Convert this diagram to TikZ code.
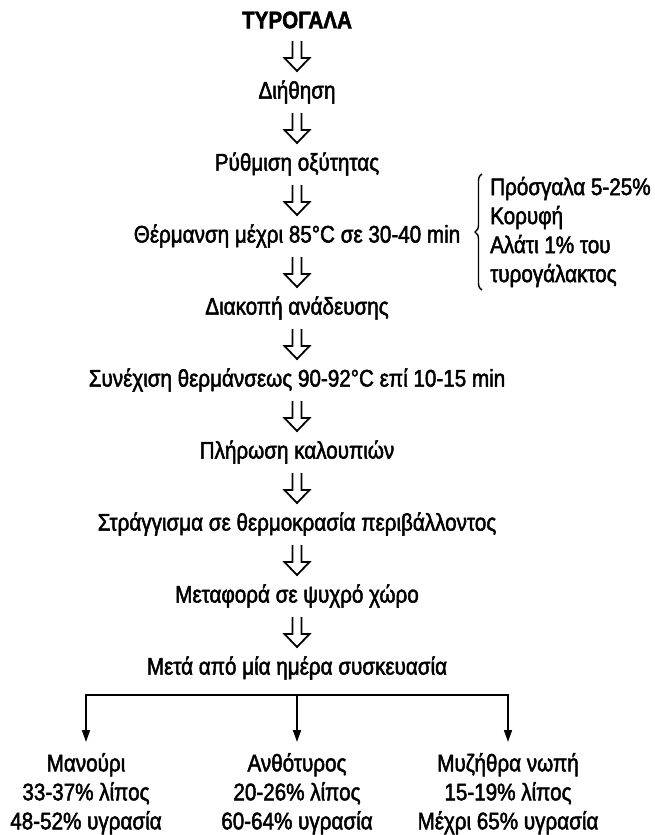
\documentclass[tikz,border=0pt]{standalone}
\usepackage{fontspec}
\setmainfont{Liberation Sans}[FakeStretch=0.86, FakeBold=2]
\usetikzlibrary{positioning,calc,arrows.meta,decorations.pathreplacing}

\tikzset{
    stage/.style={font=\fontsize{24}{29}\selectfont, inner sep=0pt},
    product/.style={stage, align=center},
    dnarrow/.pic={\draw[line width=1.8pt, line join=miter] (-4.5,15) -- (-4.5,-2) -- (-12.5,-2) -- (0,-15) -- (12.5,-2) -- (4.5,-2) -- (4.5,15);},
    split/.style={line width=1.6pt, -{Triangle[length=12pt,width=8pt]}},
}

\begin{document}
\begin{tikzpicture}[x=1pt, y=1pt, node distance=72pt, on grid]
        \useasboundingbox (0,0) rectangle (654,-835);
        \node[stage, font=\fontsize{24}{29}\selectfont\bfseries] (s0) at (297,-20) {ΤΥΡΟΓΑΛΑ}; % raw material
        \node[stage, below=of s0] (s1) {Διήθηση}; % filtering
        \node[stage, below=of s1] (s2) {Ρύθμιση οξύτητας};
        \node[stage, below=of s2] (s3) {Θέρμανση μέχρι 85°C σε 30-40 min};
        \node[stage, below=of s3] (s4) {Διακοπή ανάδευσης};
        \node[stage, below=of s4] (s5) {Συνέχιση θερμάνσεως 90-92°C επί 10-15 min};
        \node[stage, below=of s5] (s6) {Πλήρωση καλουπιών};
        \node[stage, below=of s6] (s7) {Στράγγισμα σε θερμοκρασία περιβάλλοντος};
        \node[stage, below=of s7] (s8) {Μεταφορά σε ψυχρό χώρο};
        \node[stage, below=of s8] (s9) {Μετά από μία ημέρα συσκευασία}; % last step before split
        \node[stage, align=left, anchor=west] (note) at (490,-232) {Πρόσγαλα 5-25\%\\Κορυφή\\Αλάτι 1\% του\\τυρογάλακτος}; % additions at heating
        \draw[line width=1.4pt, decorate, decoration={brace, amplitude=7pt}] ([xshift=-8pt,yshift=-3pt]note.south west) -- ([xshift=-8pt,yshift=3pt]note.north west);
        % hollow arrows between steps
        \foreach \a/\b in {s0/s1, s1/s2, s2/s3, s3/s4, s4/s5, s5/s6, s6/s7, s7/s8, s8/s9}
            \pic at ($(\a)!0.5!(\b)$) {dnarrow};
        \coordinate[below=27pt of s9] (fork); % split point
        \node[product, anchor=north] (p2) at ([yshift=-58pt]fork) {Ανθότυρος\\20-26\% λίπος\\60-64\% υγρασία};
        \node[product, anchor=north] (p1) at ([xshift=-211pt]p2.north) {Μανούρι\\33-37\% λίπος\\48-52\% υγρασία};
        \node[product, anchor=north] (p3) at ([xshift=211pt]p2.north) {Μυζήθρα νωπή\\15-19\% λίπος\\Μέχρι 65\% υγρασία};
        \draw[split, shorten >=11pt] (fork) -| (p1.north);
        \draw[split, shorten >=11pt] (fork) -- (p2.north);
        \draw[split, shorten >=11pt] (fork) -| (p3.north);
    \end{tikzpicture}
\end{document}
